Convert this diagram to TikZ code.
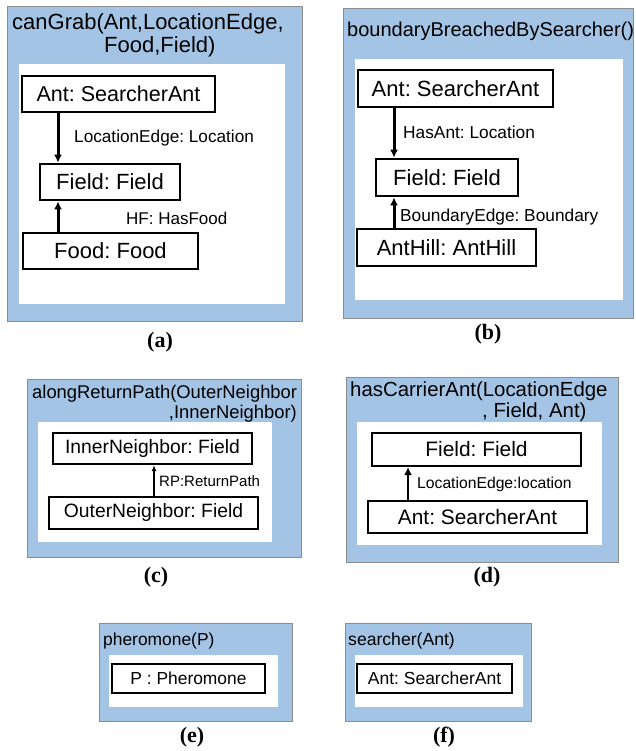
\documentclass[tikz,border=0pt]{standalone}
\usepackage{fontspec}
\setmainfont{Liberation Sans}
\newfontfamily\serifbf{Liberation Serif}
\usetikzlibrary{arrows.meta}
\frenchspacing
\definecolor{panelblue}{RGB}{164,196,230}
\definecolor{panelgray}{RGB}{140,140,140}
\newcommand{\fs}[1]{\fontsize{#1}{#1}\selectfont}
\tikzset{
  panel/.style={fill=panelblue, draw=panelgray, line width=1pt},
  inner/.style={fill=white, draw=none},
  obj/.style={draw, fill=white, inner sep=0pt, align=center, line width=#1},
  obj/.default=2.8pt,
  ttl/.style={anchor=base west, inner sep=0pt},
  elab/.style={anchor=base west, inner sep=0pt},
  arr/.style={line width=#1, -{Latex[length=8pt,width=8pt]}},
  arr/.default=3pt,
  sub/.style={font=\serifbf\bfseries\fs{22}, inner sep=0pt}
}
\begin{document}
\frenchspacing
\begin{tikzpicture}[x=1pt,y=-1pt]
\useasboundingbox[fill=white] (0,0) rectangle (635,751);

% ---------- (a)
\draw[panel] (7,7) rectangle (302,321);
\fill[inner] (19,64) rectangle (285,304);
\node[ttl, font=\fs{22}] (ta1) at (12,30) {canGrab(Ant,LocationEdge,};
\node[ttl, font=\fs{22}] (ta2) at (104,53) {Food,Field)};
\node[obj, minimum width=193pt, minimum height=36pt, font=\fs{21.5}] (aant) at (118.5,94) {Ant: SearcherAnt};
\node[obj, minimum width=140pt, minimum height=36pt, font=\fs{22}] (afield) at (110,182) {Field: Field};
\node[obj, minimum width=175pt, minimum height=36pt, font=\fs{22}] (afood) at (110.5,251) {Food: Food};
\coordinate (xa) at (58,0);
\draw[arr] (aant.south -| xa) -- (afield.north -| xa);
\draw[arr] (afood.north -| xa) -- (afield.south -| xa);
\node[elab, font=\fs{17.2}] (la1) at (74,143) {LocationEdge: Location};
\node[elab, font=\fs{17}] (la2) at (126,225) {HF: HasFood};
\node[sub] (suba) at (160,342) {(a)};

% ---------- (b)
\draw[panel] (343,9) rectangle (633,318);
\fill[inner] (355,59) rectangle (623,300);
\node[ttl, font=\fs{20}] (tb1) at (347,37) {boundaryBreachedBySearcher()};
\node[obj, minimum width=195pt, minimum height=37pt, font=\fs{22}] (bant) at (455.5,88.5) {Ant: SearcherAnt};
\node[obj, minimum width=142pt, minimum height=37pt, font=\fs{22}] (bfield) at (447,177.5) {Field: Field};
\node[obj, minimum width=179pt, minimum height=37pt, font=\fs{22}] (bhill) at (446.5,247.5) {AntHill: AntHill};
\coordinate (xb) at (394,0);
\draw[arr] (bant.south -| xb) -- (bfield.north -| xb);
\draw[arr] (bhill.north -| xb) -- (bfield.south -| xb);
\node[elab, font=\fs{17.3}] (lb1) at (403,139) {HasAnt: Location};
\node[elab, font=\fs{17.3}] (lb2) at (400,222) {BoundaryEdge: Boundary};
\node[sub] (subb) at (488,334) {(b)};

% ---------- (c)
\draw[panel] (27,379) rectangle (301,557);
\fill[inner] (38,422) rectangle (272,542);
\node[ttl, font=\fs{18.4}] (tc1) at (32,398) {alongReturnPath(OuterNeighbor};
\node[ttl, anchor=base east, font=\fs{18.4}] (tc2) at (297,418) {,InnerNeighbor)};
\node[obj=2.2pt, minimum width=199pt, minimum height=31pt, font=\fs{19.3}] (cin) at (152.5,448.5) {InnerNeighbor: Field};
\node[obj=2.2pt, minimum width=209pt, minimum height=32pt, font=\fs{19.3}] (cout) at (153.5,513) {OuterNeighbor: Field};
\coordinate (xc) at (154,0);
\draw[line width=1.7pt, -{Latex[length=6pt,width=5pt]}] (cout.north -| xc) -- (cin.south -| xc);
\node[elab, font=\fs{15}] (lc1) at (159,486) {RP:ReturnPath};
\node[sub] (subc) at (156,577) {(c)};

% ---------- (d)
\draw[panel] (346,377) rectangle (618,562);
\fill[inner] (357,422) rectangle (602,545);
\node[ttl, font=\fs{20.4}] (td1) at (350,396) {hasCarrierAnt(LocationEdge};
\node[ttl, font=\fs{20.4}] (td2) at (482,417) {, Field, Ant)};
\node[obj=2.2pt, minimum width=209pt, minimum height=33pt, font=\fs{20.9}] (dfield) at (476.5,449.5) {Field: Field};
\node[obj=2.2pt, minimum width=219pt, minimum height=32pt, font=\fs{20.9}] (dant) at (477.5,517) {Ant: SearcherAnt};
\coordinate (xd) at (408,0);
\draw[arr=2.8pt] (dant.north -| xd) -- (dfield.south -| xd);
\node[elab, font=\fs{15.7}] (ld1) at (417,488) {LocationEdge:location};
\node[sub] (subd) at (487,577) {(d)};

% ---------- (e)
\draw[panel] (99,623) rectangle (292,721);
\fill[inner] (109,655) rectangle (278,707);
\node[ttl, font=\fs{17.4}] (te1) at (103,645) {pheromone(P)};
\node[obj=2pt, minimum width=153pt, minimum height=29pt, font=\fs{17.4}] (ep) at (188.5,678.5) {P : Pheromone};
\node[sub] (sube) at (192,737) {(e)};

% ---------- (f)
\draw[panel] (345,623) rectangle (531,721);
\fill[inner] (355,655) rectangle (523,707);
\node[ttl, font=\fs{17.6}] (tf1) at (348,645) {searcher(Ant)};
\node[obj=2pt, minimum width=155pt, minimum height=29pt, font=\fs{17.5}] (fant) at (434.5,678.5) {Ant: SearcherAnt};
\node[sub] (subf) at (444,737) {(f)};
\end{tikzpicture}
\end{document}
